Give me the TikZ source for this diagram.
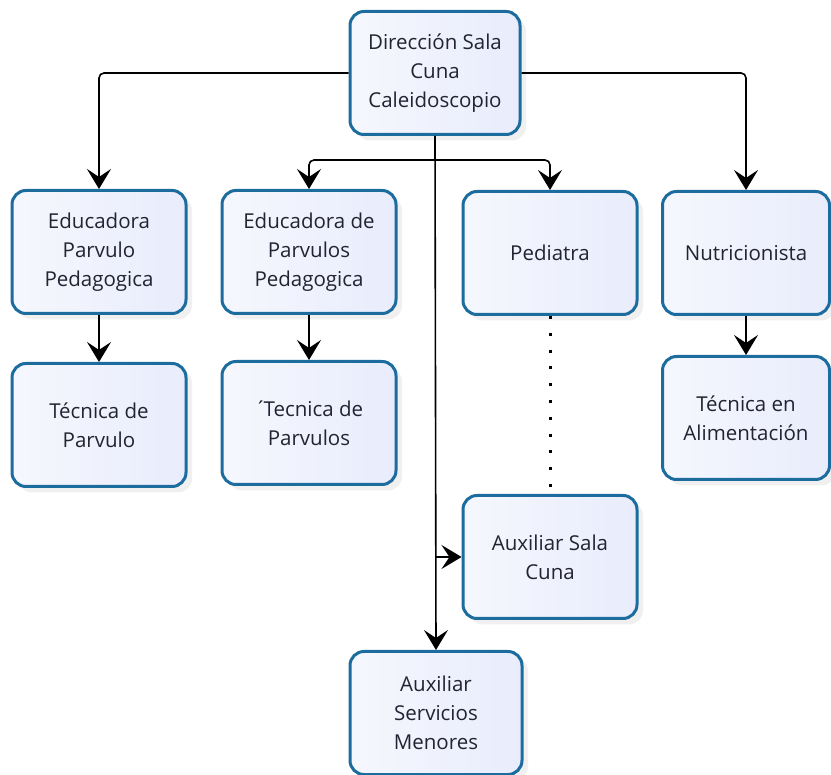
\documentclass[tikz,border=0pt]{standalone}
\usepackage{fontspec}
\setmainfont{Open Sans}
\usetikzlibrary{arrows.meta,shadows}

\definecolor{boxline}{RGB}{28,108,158}
\definecolor{boxfill}{RGB}{232,236,252}
\definecolor{boxtext}{RGB}{35,35,50}

\begin{document}
\begin{tikzpicture}[x=1pt, y=-1pt,
		box/.style={draw=boxline, line width=3pt, rounded corners=14pt,
			left color=white!60!boxfill, right color=boxfill,
			minimum width=174pt, minimum height=123pt, align=center,
			text=boxtext, font=\fontsize{20.5}{29}\selectfont,
			drop shadow={opacity=0.12, shadow xshift=6pt, shadow yshift=-6pt}},
		link/.style={line width=1.6pt, >={Stealth[length=20pt 0, width=24pt 0, inset=8pt 0]}, ->},
		dotlink/.style={line width=3pt, dash pattern=on 3pt off 13.8pt}]
		
		\useasboundingbox (0,0) rectangle (831,775);
		
		% 1. Top (Direction)
		\node[box, minimum width=170pt] (dir) at (435,73) {Dirección Sala\\Cuna\\Caleidoscopio};
		
		% 2. Second row
		\node[box] (edu1) at (99,252) {Educadora\\Parvulo\\Pedagogica};
		\node[box] (edu2) at (309,252) {Educadora de\\Parvulos\\Pedagogica};
		\node[box] (ped) at (550,253) {Pediatra};
		\node[box, minimum width=167pt] (nut) at (746,253) {Nutricionista};
		
		% 3. Third row
		\node[box] (tec1) at (99,425) {Técnica de\\Parvulo};
		\node[box] (tec2) at (309,423) {´\kern-3pt Tecnica de\\Parvulos};
		\node[box, minimum width=167pt] (tec3) at (746,418) {Técnica en\\Alimentación};
		
		% 4. Assistants
		\node[box] (aux1) at (550,557) {Auxiliar Sala\\Cuna};
		\node[box, minimum width=172pt] (aux2) at (436,713) {Auxiliar\\Servicios\\Menores};
		
		% --- Connectors ---
		\coordinate (split) at (435,160);
		\coordinate (tap) at (435,557);
		\draw[link] (dir.west) {[rounded corners=5pt] -| (edu1.north)};
		\draw[link] (dir.east) {[rounded corners=5pt] -| (nut.north)};
		\draw[link] (split) {[rounded corners=5pt] -| (edu2.north)};
		\draw[link] (split) {[rounded corners=5pt] -| (ped.north)};
		\draw[link] (dir.south) -- (aux2.north);
		\draw[link] (tap) -- (aux1.west);
		\draw[link] (edu1.south) -- (tec1.north);
		\draw[link] (edu2.south) -- (tec2.north);
		\draw[link] (nut.south) -- (tec3.north);
		\draw[dotlink] (ped.south) -- (aux1.north); % Pediatra to Auxiliar
		
	\end{tikzpicture}
\end{document}
